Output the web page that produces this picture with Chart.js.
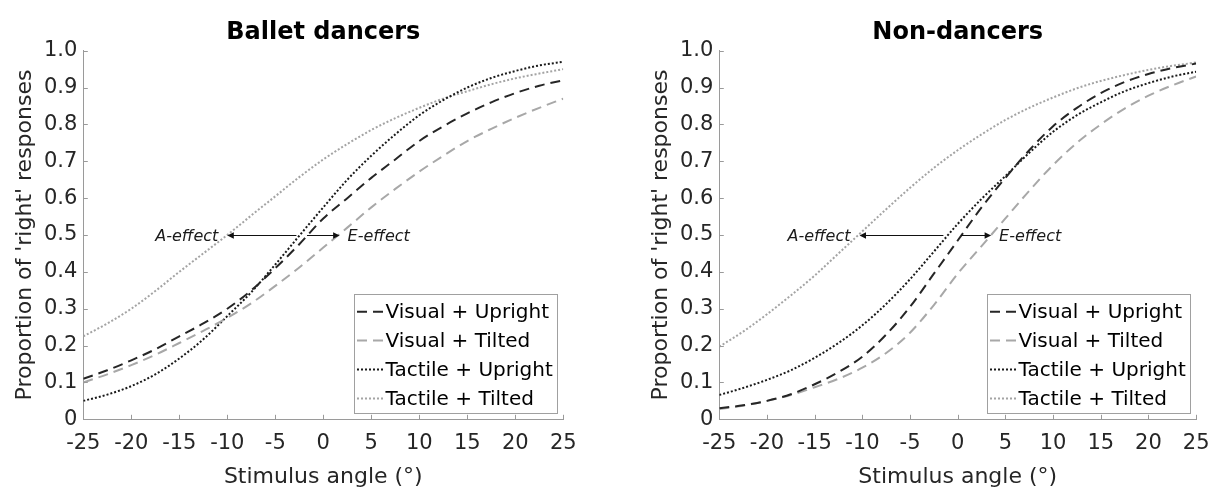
<!DOCTYPE html>
<html><head><meta charset="utf-8">
<script src="https://cdn.jsdelivr.net/npm/chart.js@4.4.1/dist/chart.umd.min.js"></script>
<style>
html,body{margin:0;padding:0;background:#fff;width:1221px;height:491px;overflow:hidden}
canvas{position:absolute;top:0}
#c1{left:0}
#c2{left:610px}
</style></head><body>
<canvas id="c1" width="610" height="491"></canvas>
<canvas id="c2" width="611" height="491"></canvas>
<script>
// ---- data ----
const angles = [-25, -22.5, -20, -17.5, -15, -12.5, -10, -7.5, -5, -2.5, 0, 2.5, 5, 7.5, 10, 12.5, 15, 17.5, 20, 22.5, 25];
const xTickValues = [-25, -20, -15, -10, -5, 0, 5, 10, 15, 20, 25];
const xTickLabels = ['-25', '-20', '-15', '-10', '-5', '0', '5', '10', '15', '20', '25'];
const yTickLabels = ['0', '0.1', '0.2', '0.3', '0.4', '0.5', '0.6', '0.7', '0.8', '0.9', '1.0'];
const seriesNames = ['Visual + Upright', 'Visual + Tilted', 'Tactile + Upright', 'Tactile + Tilted'];
const panelTitles = ['Ballet dancers', 'Non-dancers'];

// Ballet dancers
const balletVisualUpright = [0.11, 0.133, 0.16, 0.19, 0.225, 0.26, 0.30, 0.35, 0.41, 0.475, 0.545, 0.60, 0.655, 0.705, 0.755, 0.795, 0.83, 0.86, 0.885, 0.905, 0.92];
const balletVisualTilted = [0.10, 0.122, 0.147, 0.175, 0.207, 0.24, 0.275, 0.315, 0.362, 0.412, 0.466, 0.52, 0.575, 0.625, 0.672, 0.715, 0.755, 0.788, 0.818, 0.845, 0.87];
const balletTactileUpright = [0.05, 0.067, 0.09, 0.122, 0.165, 0.217, 0.28, 0.345, 0.42, 0.498, 0.575, 0.65, 0.715, 0.773, 0.825, 0.866, 0.90, 0.926, 0.945, 0.96, 0.97];
const balletTactileTilted = [0.225, 0.26, 0.30, 0.348, 0.40, 0.45, 0.50, 0.553, 0.605, 0.657, 0.705, 0.747, 0.785, 0.817, 0.845, 0.87, 0.89, 0.909, 0.925, 0.938, 0.95];

// Non-dancers
const nonVisualUpright = [0.03, 0.038, 0.05, 0.068, 0.095, 0.128, 0.17, 0.23, 0.305, 0.395, 0.485, 0.575, 0.655, 0.73, 0.795, 0.845, 0.885, 0.915, 0.937, 0.953, 0.965];
const nonVisualTilted = [0.028, 0.037, 0.05, 0.066, 0.087, 0.11, 0.14, 0.18, 0.235, 0.31, 0.395, 0.47, 0.545, 0.62, 0.69, 0.75, 0.80, 0.843, 0.878, 0.906, 0.93];
const nonTactileUpright = [0.066, 0.085, 0.107, 0.133, 0.167, 0.207, 0.255, 0.313, 0.38, 0.455, 0.53, 0.598, 0.66, 0.723, 0.78, 0.825, 0.86, 0.89, 0.912, 0.93, 0.943];
const nonTactileTilted = [0.197, 0.238, 0.285, 0.336, 0.39, 0.45, 0.51, 0.57, 0.628, 0.682, 0.73, 0.773, 0.812, 0.845, 0.873, 0.898, 0.918, 0.934, 0.948, 0.959, 0.968];

// Effect arrows (stimulus angle of tail and tip, at proportion 0.5)
const balletArrows = [
  {label: 'A-effect', from: -2.8, to: -10.0, level: 0.5},
  {label: 'E-effect', from: -1.7, to: 1.7, level: 0.5}
];
const nonArrows = [
  {label: 'A-effect', from: -1.5, to: -10.3, level: 0.5},
  {label: 'E-effect', from: 0.35, to: 3.5, level: 0.5}
];

// ---- styles ----
const FONT = "'DejaVu Sans', sans-serif";
const AXIS = '#9a9a9a';
const TXT = '#262626';
const styles = [
  {color: '#262626', dash: [10, 6]},
  {color: '#a8a8a8', dash: [10, 6]},
  {color: '#1a1a1a', dash: [2, 2]},
  {color: '#a4a4a4', dash: [2, 2]}
];

function makeDatasets(seriesList) {
  return seriesList.map((vals, i) => ({
    label: seriesNames[i],
    data: angles.map((a, k) => ({x: a, y: vals[k]})),
    borderColor: styles[i].color,
    borderDash: styles[i].dash,
    borderWidth: 2,
    pointRadius: 0,
    fill: false,
    cubicInterpolationMode: 'monotone'
  }));
}

function makeDeco(arrows) {
  return {
    id: 'deco',
    afterDatasetsDraw(chart) {
      const {ctx, chartArea: a, scales: {x, y}} = chart;
      ctx.save();
      // inward ticks
      ctx.strokeStyle = AXIS; ctx.lineWidth = 1; ctx.setLineDash([]);
      ctx.beginPath();
      x.ticks.forEach(t => {
        const px = Math.round(x.getPixelForValue(t.value)) + 0.5;
        ctx.moveTo(px, a.bottom); ctx.lineTo(px, a.bottom - 4.5);
      });
      y.ticks.forEach(t => {
        const py = Math.round(y.getPixelForValue(t.value)) + 0.5;
        ctx.moveTo(a.left, py); ctx.lineTo(a.left + 4.5, py);
      });
      ctx.stroke();
      // arrows
      arrows.forEach(ar => {
        const py = Math.round(y.getPixelForValue(ar.level)) + 0.5;
        const x1 = x.getPixelForValue(ar.from);
        const x2 = x.getPixelForValue(ar.to);
        const dir = Math.sign(x2 - x1);
        ctx.strokeStyle = '#111'; ctx.fillStyle = '#111'; ctx.lineWidth = 1;
        ctx.beginPath(); ctx.moveTo(x1, py); ctx.lineTo(x2 - dir * 5, py); ctx.stroke();
        ctx.beginPath(); ctx.moveTo(x2, py); ctx.lineTo(x2 - dir * 6.5, py - 3.3); ctx.lineTo(x2 - dir * 6.5, py + 3.3); ctx.closePath(); ctx.fill();
        ctx.font = 'italic 16px ' + FONT;
        ctx.fillStyle = '#1a1a1a';
        ctx.textBaseline = 'middle';
        if (dir < 0) { ctx.textAlign = 'right'; ctx.fillText(ar.label, x2 - 9, py + 1); }
        else { ctx.textAlign = 'left'; ctx.fillText(ar.label, x2 + 8, py + 1); }
      });
      // legend
      const bw = 203, bh = 119;
      const bx = Math.round(a.right - 6.3 - bw), by = Math.round(a.bottom - 6.6 - bh);
      ctx.fillStyle = '#fff';
      ctx.fillRect(bx, by, bw, bh);
      ctx.strokeStyle = '#a0a0a0'; ctx.lineWidth = 1;
      ctx.strokeRect(bx + 0.5, by + 0.5, bw, bh);
      chart.data.datasets.forEach((ds, i) => {
        const cy = by + 17.7 + i * 28.9;
        ctx.save();
        ctx.strokeStyle = ds.borderColor; ctx.lineWidth = ds.borderWidth;
        ctx.setLineDash(ds.borderDash);
        ctx.beginPath(); ctx.moveTo(bx + 3, cy); ctx.lineTo(bx + 29.5, cy); ctx.stroke();
        ctx.restore();
        ctx.font = '20px ' + FONT;
        ctx.fillStyle = '#000';
        ctx.textAlign = 'left'; ctx.textBaseline = 'middle';
        ctx.fillText(ds.label, bx + 31.5, cy + 1.3);
      });
      ctx.restore();
    }
  };
}

function makeChart(id, title, seriesList, arrows, padLeft, padRight) {
  return new Chart(document.getElementById(id), {
    type: 'line',
    data: {datasets: makeDatasets(seriesList)},
    plugins: [makeDeco(arrows)],
    options: {
      responsive: false,
      animation: false,
      devicePixelRatio: 1,
      layout: {padding: {left: padLeft, right: padRight, top: 0, bottom: 0}},
      plugins: {
        legend: {display: false},
        tooltip: {enabled: false},
        title: {
          display: true, text: title, fullSize: false, color: '#000',
          font: {family: FONT, size: 24, weight: 'bold', lineHeight: 1.2},
          padding: {top: 18.2, bottom: 3.7}
        }
      },
      scales: {
        x: {
          type: 'linear', min: -25, max: 25,
          afterFit(s) { s.height = 71.7; },
          afterBuildTicks(s) { s.ticks = xTickValues.map(v => ({value: v})); },
          grid: {display: false, drawTicks: false},
          border: {display: true, color: AXIS, width: 1},
          ticks: {
            autoSkip: false, maxRotation: 0, padding: 11.5, color: TXT,
            font: {family: FONT, size: 21, lineHeight: 1.2},
            callback: (v) => xTickLabels[xTickValues.indexOf(v)]
          },
          title: {display: true, text: 'Stimulus angle (°)', color: TXT,
            font: {family: FONT, size: 22, lineHeight: 1.2}, padding: {top: 0, bottom: 1}}
        },
        y: {
          type: 'linear', min: 0, max: 1,
          afterFit(s) { s.width = 83.3; },
          grid: {display: false, drawTicks: false},
          border: {display: true, color: AXIS, width: 1},
          ticks: {
            stepSize: 0.1, padding: 6, color: TXT,
            font: {family: FONT, size: 21, lineHeight: 1.2},
            callback: (v) => yTickLabels[Math.round(v * 10)]
          },
          title: {display: true, text: "Proportion of 'right' responses", color: TXT,
            font: {family: FONT, size: 22, lineHeight: 1.2}, padding: {top: 11.6, bottom: 0}}
        }
      }
    }
  });
}

makeChart('c1', panelTitles[0],
  [balletVisualUpright, balletVisualTilted, balletTactileUpright, balletTactileTilted],
  balletArrows, 0, 46.7);
makeChart('c2', panelTitles[1],
  [nonVisualUpright, nonVisualTilted, nonTactileUpright, nonTactileTilted],
  nonArrows, 26, 21.7);
</script>
</body></html>
